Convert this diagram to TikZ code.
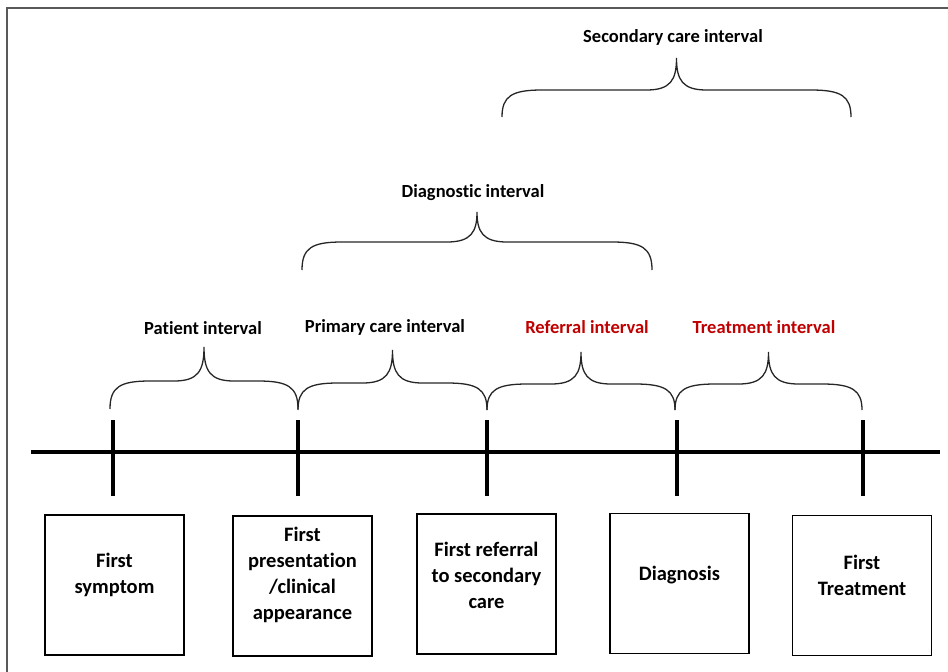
\documentclass[tikz,border=0pt]{standalone}
\usepackage{fontspec}
\setmainfont{Carlito}[Ligatures=NoCommon]
\definecolor{redlab}{HTML}{C00000}
\definecolor{framegray}{gray}{0.35}
\newcommand{\ibrace}[6]{% name, left x, right x, bottom y, mid y, tip y ; center = midpoint
  \pgfmathsetmacro{\bc}{(#2+#3)/2}
  \draw[bracestyle] (#2,#4) .. controls (#2,#5+6) and (#2+10,#5) .. (#2+40,#5)
    -- (\bc-30,#5) .. controls (\bc-6,#5) and (\bc,#5-10) .. (\bc,#6)
    .. controls (\bc,#5-10) and (\bc+6,#5) .. (\bc+30,#5)
    -- (#3-40,#5) .. controls (#3-10,#5) and (#3,#5+6) .. (#3,#4);
  \coordinate (#1) at (\bc,#6);
}
\begin{document}
\begin{tikzpicture}[x=1pt,y=-1pt,
  bracestyle/.style={line width=1.3pt,draw=black!85},
  lab/.style={font=\fontsize{18.5}{22}\selectfont\bfseries,anchor=center,inner sep=0pt},
  evbox/.style={draw=black,line width=1.2pt,minimum width=139pt,minimum height=140pt,inner sep=0pt},
  evtext/.style={font=\fontsize{20.5}{26}\selectfont\bfseries,align=center,inner sep=0pt,anchor=center},
  tick/.style={line width=4pt}]
\useasboundingbox (0,0) rectangle (948,672);
% frame
\draw[framegray,line width=2pt] (7,672) -- (7,8) -- (948,8);
% timeline
\coordinate (tlL) at (31,452);
\coordinate (tlR) at (940,452);
\draw[line width=4pt] (tlL) -- (tlR);
\foreach \n/\x in {t1/113,t2/298,t3/487,t4/677,t5/863}{
  \coordinate (\n top) at (\x,420);
  \coordinate (\n bot) at (\x,496);
  \draw[tick] (\n top) -- (\n bot);
}
% braces
\ibrace{bp}{110}{298}{409}{381}{347}
\ibrace{bpc}{298}{487}{410}{383}{350}
\ibrace{br}{487}{675}{410}{384}{352}
\ibrace{bt}{675}{862}{410}{384}{352}
\ibrace{bd}{302}{652}{270}{242}{212}
\ibrace{bs}{502}{851}{117}{90}{58}
% labels
\node[lab] (lp) at (203,328) {Patient interval};
\node[lab] (lpc) at (385,327) {Primary care interval};
\node[lab,text=redlab] (lr) at (587,327) {Referral interval};
\node[lab,text=redlab] (lt) at (764,327) {Treatment interval};
\node[lab] (ld) at (473,193) {Diagnostic interval};
\node[lab] (ls) at (673,37) {Secondary care interval};
% boxes
\node[evbox] (b1) at (114.5,585) {};
\node[evbox] (b2) at (302.5,586) {};
\node[evbox] (b3) at (486.5,584) {};
\node[evbox] (b4) at (679.5,583.5) {};
\node[evbox] (b5) at (862,585.5) {};
\node[evtext] (x1) at (114.5,575) {First\\symptom};
\node[evtext] (x2) at (302.5,575) {First\\presentation\\/clinical\\appearance};
\node[evtext] (x3) at (486.5,575) {First referral\\to secondary\\care};
\node[evtext] (x4) at (679.5,575) {Diagnosis};
\node[evtext] (x5) at (862,575) {First\\Treatment};
\end{tikzpicture}
\end{document}
